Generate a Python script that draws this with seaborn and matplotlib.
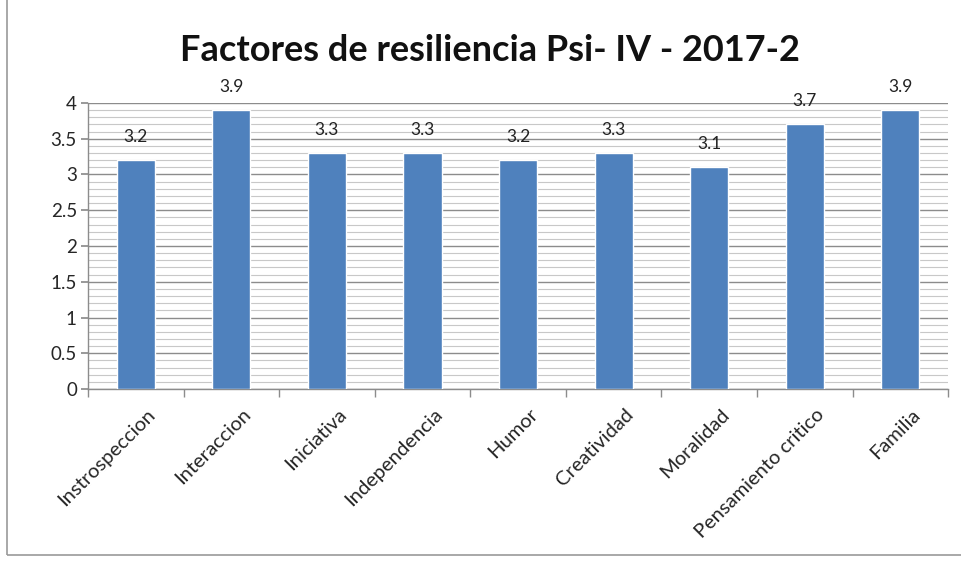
import matplotlib.pyplot as plt
import matplotlib.transforms as mtransforms
from matplotlib.patches import Rectangle
from matplotlib.ticker import MultipleLocator
import seaborn as sns
import pandas as pd

categories = ['Instrospeccion', 'Interaccion', 'Iniciativa', 'Independencia', 'Humor',
              'Creatividad', 'Moralidad', 'Pensamiento critico', 'Familia']
values = [3.2, 3.9, 3.3, 3.3, 3.2, 3.3, 3.1, 3.7, 3.9]

df = pd.DataFrame({'Factor': categories, 'Valor': values})

sns.set_theme(style='white')
plt.rcParams['font.family'] = ['Lato', 'DejaVu Sans']

fig = plt.figure(figsize=(9.61, 5.62), dpi=100)
ax = fig.add_axes([0.0916, 0.3078, 0.895, 0.509])

sns.barplot(data=df, x='Factor', y='Valor', color='#4f81bd', width=0.4,
            saturation=1, ax=ax, zorder=3)

ax.set_ylim(0, 4)
ax.set_xlim(-0.5, len(categories) - 0.5)
ax.yaxis.set_major_locator(MultipleLocator(0.5))
ax.yaxis.set_minor_locator(MultipleLocator(0.1))
ax.grid(axis='y', which='major', color='#8c8c8c', linewidth=1.0, zorder=0)
ax.grid(axis='y', which='minor', color='#c8c8c8', linewidth=0.8, zorder=0)
ax.set_axisbelow(True)

for s in ['top', 'right']:
    ax.spines[s].set_visible(False)
for s in ['left', 'bottom']:
    ax.spines[s].set_color('#8c8c8c')
    ax.spines[s].set_linewidth(1.0)

ax.set_yticks([0, 0.5, 1, 1.5, 2, 2.5, 3, 3.5, 4])
ax.set_yticklabels(['0', '0.5', '1', '1.5', '2', '2.5', '3', '3.5', '4'])
ax.tick_params(axis='y', which='major', left=True, length=5, color='#8c8c8c',
               labelsize=13.5, pad=3)
ax.tick_params(axis='y', which='minor', left=False)

# category boundary ticks like Excel
ax.set_xticks([i - 0.5 for i in range(len(categories) + 1)], minor=True)
ax.tick_params(axis='x', which='minor', bottom=True, length=6, color='#8c8c8c')
ax.set_xticks(range(len(categories)))
ax.set_xticklabels(categories, rotation=45, ha='right', rotation_mode='anchor',
                   fontsize=14.5)
ax.tick_params(axis='x', which='major', bottom=False, pad=6)
offset = mtransforms.ScaledTranslation(0.11, 0, fig.dpi_scale_trans)
for lbl in ax.get_xticklabels():
    lbl.set_transform(lbl.get_transform() + offset)

ax.set_xlabel('')
ax.set_ylabel('')

for i, v in enumerate(values):
    ax.annotate(f'{v:.1f}', (i, v), xytext=(0, 11), textcoords='offset points',
                ha='center', va='bottom', fontsize=12.5, color='#222222')

fig.text(0.51, 0.91, 'Factores de resiliencia Psi- IV - 2017-2', ha='center',
         va='center', fontsize=26, fontweight='bold', color='#111111')

fig.patches.append(Rectangle((0.007, 0.012), 1.2, 1.2, transform=fig.transFigure,
                             fill=False, edgecolor='#9a9a9a', linewidth=1.2))

fig.savefig('out.png', dpi=100)
